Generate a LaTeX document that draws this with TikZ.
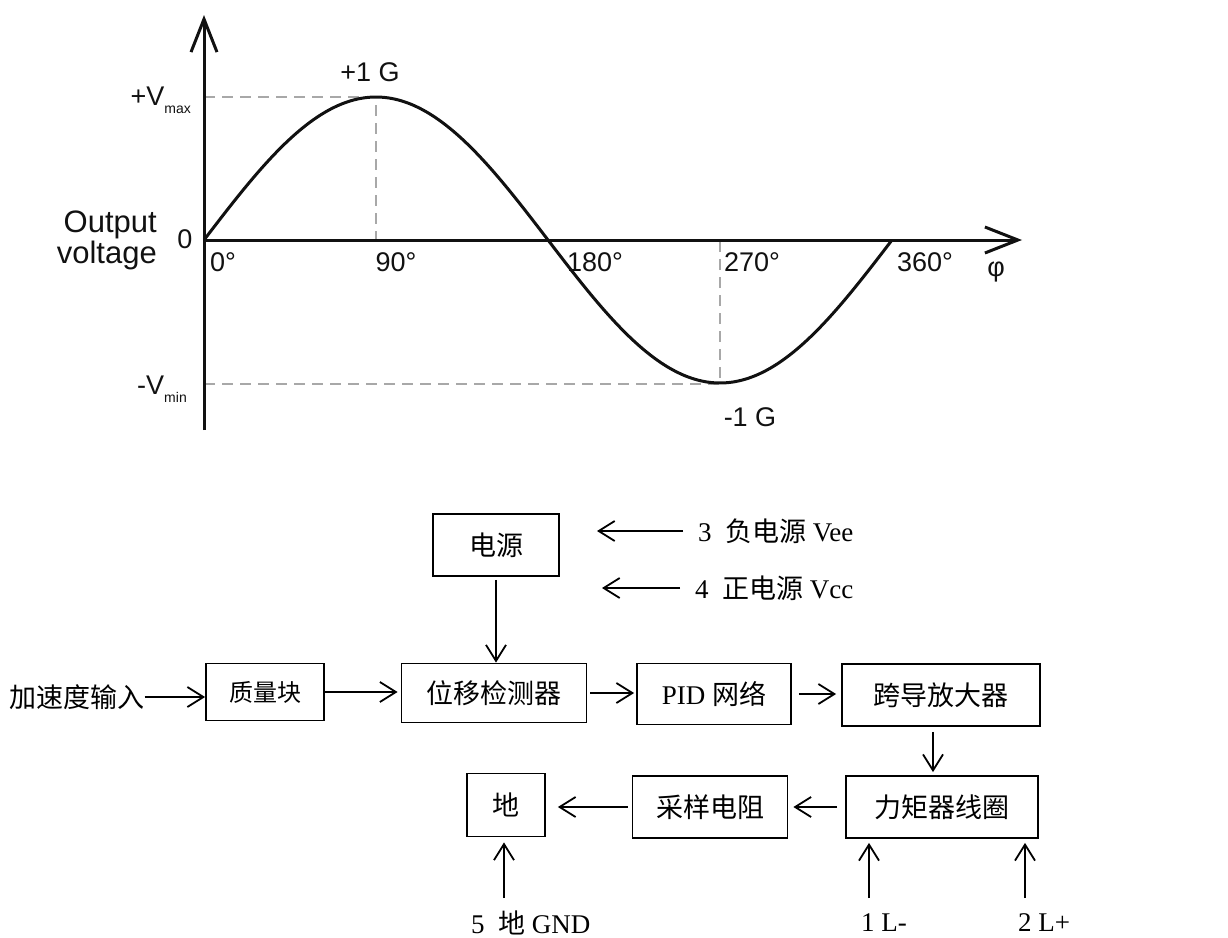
\documentclass[tikz,border=0pt]{standalone}
\usepackage{fontspec}
\setmainfont{Liberation Serif}
\setsansfont{Liberation Sans}
\newfontfamily\cjk{Noto Sans CJK SC}
\usepackage{tikz}
\usetikzlibrary{arrows.meta, positioning}
\definecolor{inkblack}{HTML}{111111}
\definecolor{dashgray}{HTML}{A8A8A8}
\newcommand{\zh}[1]{{\cjk #1}}

\begin{document}
\begin{tikzpicture}[x=1pt, y=-1pt,
    axis/.style={line width=3pt, inkblack},
    guide/.style={line width=2pt, dashgray, dash pattern=on 11pt off 7pt},
    lbl/.style={font=\sffamily\fontsize{27}{30}\selectfont, inkblack, inner sep=0pt},
    blk/.style={draw, line width=1.8pt, inner sep=0pt, minimum height=62, font=\fontsize{27}{30}\selectfont},
    txt/.style={inner sep=0pt, font=\fontsize{27}{30}\selectfont},
    flow/.style={-{Straight Barb[length=16pt, width=20pt]}, line width=1.8pt},
    bigtip/.style={-{Straight Barb[length=33pt, width=26pt]}}]
\useasboundingbox (0,0) rectangle (1228,937);

    \coordinate (O) at (204,240);
    \coordinate (ytop) at (204,15);
    \coordinate (ybot) at (204,430);
    \coordinate (xend) at (1022,240);
    \coordinate (pk) at (376,97);
    \coordinate (tr) at (720,384);

    \draw[guide] (O |- pk) -- (pk) -- (O -| pk);
    \draw[guide] (O |- tr) -- (tr) -- (O -| tr);
    \draw[axis, bigtip] (ybot) -- (ytop);
    \draw[axis, bigtip] (O) -- (xend);
    \draw[axis] plot[domain=0:360, samples=120, smooth] ({204+1.91111*\x}, {240-143*sin(\x)});

    \node[lbl] (gpos) at (370,72) {+1 G};
    \node[lbl] (gneg) at (750,417) {-1 G};
    \node[lbl, anchor=base east] (vmax) at (191,105) {+V\raisebox{-8pt}{\fontsize{14}{14}\selectfont max}};
    \node[lbl, anchor=base east] (vmin) at (187,394) {-V\raisebox{-8pt}{\fontsize{14}{14}\selectfont min}};
    \node[lbl] (zero) at (185,239) {0};
    \node[lbl, font=\sffamily\fontsize{31}{31}\selectfont, align=right, anchor=east] (ylab) at (157,240) {Output\\voltage};
    \node[lbl] (d0) at (223,262) {0°};
    \node[lbl] (d90) at (396,262) {90°};
    \node[lbl] (d180) at (595,262) {180°};
    \node[lbl] (d270) at (752,262) {270°};
    \node[lbl] (d360) at (925,262) {360°};
    \node[lbl] (phi) at (996,272) {φ};

    \node[blk, minimum width=126] (pwr) at (496,545) {\zh{电源}};
    \node[blk, minimum width=118, minimum height=57, font=\fontsize{24}{26}\selectfont] (mass) at (265,692) {\zh{质量块}};
    \node[blk, minimum width=185, minimum height=59] (disp) at (494,693) {\zh{位移检测器}};
    \node[blk, minimum width=154, minimum height=61] (pid) at (714,694) {PID \zh{网络}};
    \node[blk, minimum width=198] (amp) at (941,695) {\zh{跨导放大器}};
    \node[blk, minimum width=192] (coil) at (942,807) {\zh{力矩器线圈}};
    \node[blk, minimum width=155] (res) at (710,807) {\zh{采样电阻}};
    \node[blk, minimum width=78, minimum height=63] (gnd) at (506,805) {\zh{地}};

    \node[txt] (acc) at (77,697) {\zh{加速度输入}};
    \node[txt, anchor=west] (vee) at (698,531) {3\ \ \zh{负电源} Vee};
    \node[txt, anchor=west] (vcc) at (695,588) {4\ \ \zh{正电源} Vcc};
    \node[txt, anchor=west] (gndin) at (471,923) {5\ \ \zh{地} GND};
    \node[txt, anchor=west] (lneg) at (861,923) {1 L-};
    \node[txt, anchor=west] (lpos) at (1018,923) {2 L+};

    \coordinate (veetip) at (597,530);
    \coordinate (vcctip) at (602,587);
    \coordinate (g5) at (504,898);
    \coordinate (l1) at (869,898);
    \coordinate (l2) at (1025,898);

    \draw[flow] (acc.east) -- (acc.east -| mass.west);
    \draw[flow, shorten >=3pt] (mass.east) -- (mass.east -| disp.west);
    \draw[flow, shorten <=3pt] (pwr.south) -- (pwr.south |- disp.north);
    \draw[flow, shorten <=3pt, shorten >=2pt] (disp.east) -- (disp.east -| pid.west);
    \draw[flow, shorten <=7pt, shorten >=5pt] (pid.east) -- (pid.east -| amp.west);
    \draw[flow, shorten <=5pt, shorten >=3pt] ([xshift=-8pt]amp.south) -- ([xshift=-8pt]amp.south |- coil.north);
    \draw[flow, shorten <=8pt, shorten >=5pt] (coil.west) -- (coil.west -| res.east);
    \draw[flow, shorten <=4pt, shorten >=12pt] (res.west) -- (res.west -| gnd.east);
    \draw[flow, shorten <=15pt] (vee.west) -- (vee.west -| veetip);
    \draw[flow, shorten <=15pt] (vcc.west) -- (vcc.west -| vcctip);
    \draw[flow, shorten >=5pt] (g5) -- (g5 |- gnd.south);
    \draw[flow, shorten >=4pt] (l1) -- (l1 |- coil.south);
    \draw[flow, shorten >=4pt] (l2) -- (l2 |- coil.south);
\end{tikzpicture}
\end{document}
